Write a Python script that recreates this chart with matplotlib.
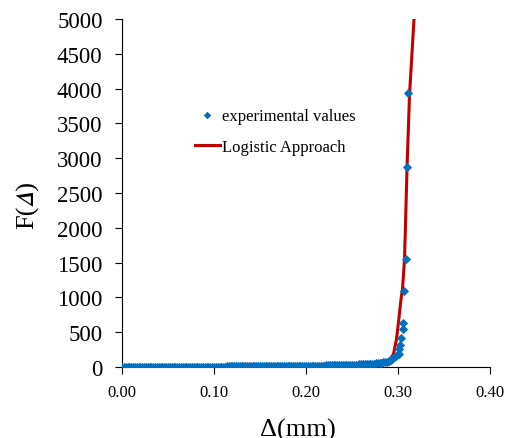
import matplotlib.pyplot as plt

plt.rcParams['font.family'] = ['Liberation Serif', 'STIXGeneral', 'DejaVu Serif']

# measured load F vs displacement (mm)
exp_x = [0.000, 0.002, 0.004, 0.006, 0.008, 0.010, 0.012, 0.014, 0.016, 0.018,
         0.020, 0.022, 0.024, 0.026, 0.028, 0.030, 0.032, 0.034, 0.036, 0.038,
         0.040, 0.042, 0.044, 0.046, 0.048, 0.050, 0.052, 0.054, 0.056, 0.058,
         0.060, 0.062, 0.064, 0.066, 0.068, 0.070, 0.072, 0.074, 0.076, 0.078,
         0.080, 0.082, 0.084, 0.086, 0.088, 0.090, 0.092, 0.094, 0.096, 0.098,
         0.100, 0.102, 0.104, 0.106, 0.108, 0.110, 0.112, 0.114, 0.116, 0.118,
         0.120, 0.122, 0.124, 0.126, 0.128, 0.130, 0.132, 0.134, 0.136, 0.138,
         0.140, 0.142, 0.144, 0.146, 0.148, 0.150, 0.152, 0.154, 0.156, 0.158,
         0.160, 0.162, 0.164, 0.166, 0.168, 0.170, 0.172, 0.174, 0.176, 0.178,
         0.180, 0.182, 0.184, 0.186, 0.188, 0.190, 0.192, 0.194, 0.196, 0.198,
         0.200, 0.202, 0.204, 0.206, 0.208, 0.210, 0.212, 0.214, 0.216, 0.218,
         0.220, 0.222, 0.224, 0.226, 0.228, 0.230, 0.232, 0.234, 0.236, 0.238,
         0.240, 0.242, 0.244, 0.246, 0.248, 0.250, 0.252, 0.254, 0.256, 0.258,
         0.260, 0.262, 0.264, 0.266, 0.268, 0.270, 0.272, 0.274, 0.276, 0.278,
         0.280, 0.282, 0.284, 0.286, 0.288, 0.290, 0.292, 0.294, 0.296, 0.298,
         0.3008, 0.3014, 0.3022, 0.3033, 0.3051, 0.3054, 0.3065, 0.3084, 0.3098, 0.3112]
exp_F = [1, 1, 1, 1, 1, 1, 1, 2, 2, 2,
         2, 2, 2, 2, 2, 2, 3, 3, 3, 3,
         3, 3, 3, 3, 4, 4, 4, 4, 4, 4,
         4, 4, 5, 5, 5, 5, 5, 5, 5, 5,
         5, 6, 6, 6, 6, 6, 6, 6, 6, 7,
         7, 7, 7, 7, 7, 7, 7, 8, 8, 8,
         8, 8, 8, 8, 8, 9, 9, 9, 9, 9,
         9, 10, 10, 10, 10, 10, 10, 11, 11, 11,
         11, 11, 11, 12, 12, 12, 12, 13, 13, 13,
         13, 14, 14, 14, 15, 15, 15, 16, 16, 16,
         16, 17, 17, 18, 18, 19, 19, 20, 20, 21,
         21, 22, 22, 23, 23, 24, 25, 25, 26, 27,
         27, 28, 29, 30, 31, 32, 33, 34, 35, 37,
         38, 39, 41, 42, 44, 46, 48, 50, 53, 56,
         59, 63, 67, 72, 78, 88, 100, 120, 140, 160,
         187, 259, 316, 412, 546, 628, 1096, 1548, 2870, 3930]

# logistic model curve
fit_x = [0.000, 0.050, 0.100, 0.150, 0.200, 0.230, 0.250, 0.265, 0.2826, 0.2902,
         0.2951, 0.2984, 0.3009, 0.3033, 0.3049, 0.3071, 0.3098, 0.3125, 0.3174]
fit_F = [0, 1, 3, 6, 12, 17, 22, 28, 43, 86,
         187, 402, 690, 977, 1121, 1552, 2859, 3908, 5000]

fig = plt.figure(figsize=(5.05, 4.39), dpi=100)
ax = fig.add_axes([0.2416, 0.1617, 0.7287, 0.7927])

ax.plot(fit_x, fit_F, color='#C00000', lw=2.2, label='Logistic Approach', zorder=2)
ax.plot(exp_x, exp_F, linestyle='none', marker='D', markersize=3.8,
        color='#0070C0', markeredgewidth=0.6, label='experimental values', zorder=3)

ax.set_xlim(0, 0.40)
ax.set_ylim(0, 5000)
ax.set_xticks([0.0, 0.1, 0.2, 0.3, 0.4])
ax.set_xticklabels(['0.00', '0.10', '0.20', '0.30', '0.40'])
ax.set_yticks(range(0, 5001, 500))
ax.tick_params(axis='x', labelsize=12, direction='out', length=5, pad=7)
ax.tick_params(axis='y', labelsize=16.5, direction='out', length=5, pad=9)
for s in ['top', 'right']:
    ax.spines[s].set_visible(False)

ax.set_xlabel('Δ(mm)', fontsize=19)
ax.xaxis.set_label_coords(0.478, -0.145)
ax.xaxis.label.set_verticalalignment('top')
ax.set_ylabel('F(\U0001D6E5)', fontsize=19)
ax.yaxis.set_label_coords(-0.255, 0.468)
ax.yaxis.label.set_verticalalignment('center')

handles, labels = ax.get_legend_handles_labels()
leg = ax.legend(handles[::-1], labels[::-1], loc='center left',
                bbox_to_anchor=(0.198, 0.677), frameon=False,
                fontsize=12, handlelength=1.5, handletextpad=0.1, labelspacing=0.85,
                borderpad=0, borderaxespad=0, markerscale=0.85)

fig.savefig('out.png', dpi=100)
